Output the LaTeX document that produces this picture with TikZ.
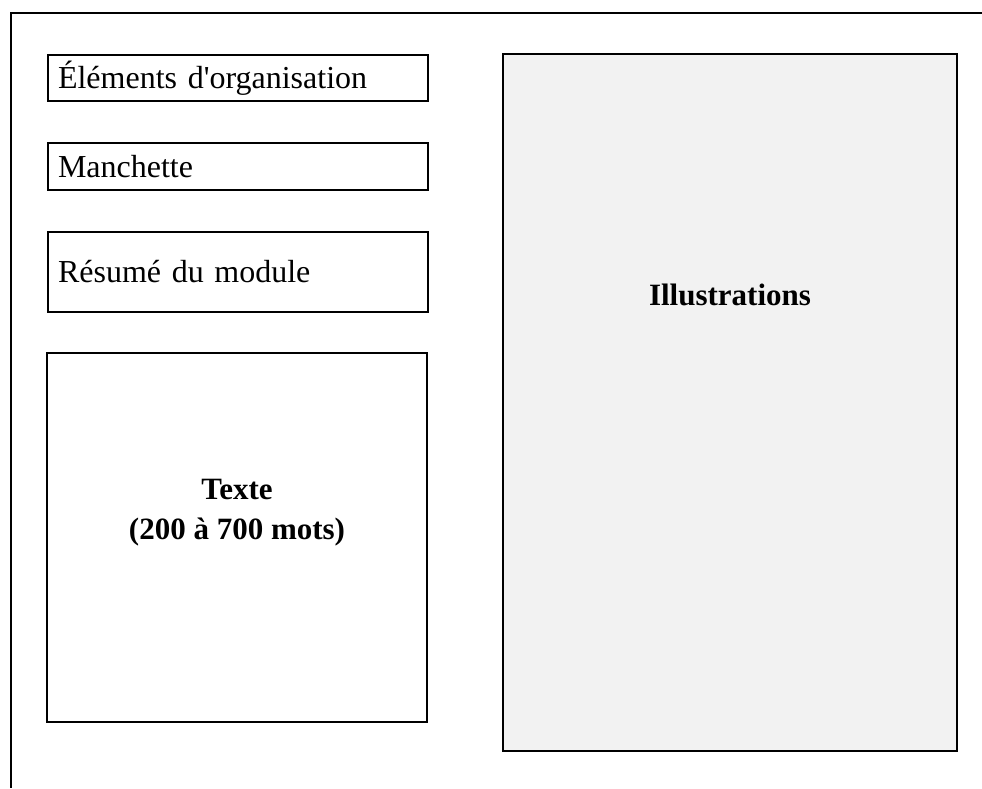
\documentclass[tikz,border=0pt]{standalone}
\usepackage{fontspec}
\setmainfont{Liberation Serif}
\definecolor{illgray}{HTML}{F2F2F2}
\tikzset{
  lbox/.style={draw=black, line width=2pt, anchor=north west, align=left,
    text width=360pt, inner xsep=10pt, inner ysep=0pt, font=\fontsize{32}{36}\selectfont},
  frameline/.style={draw=black, line width=2pt},
  bigtext/.style={align=center, font=\fontsize{31}{40}\selectfont\bfseries}
}
\begin{document}
\begin{tikzpicture}[x=1pt,y=-1pt]
\useasboundingbox (0,0) rectangle (982,788);
% outer frame (top and left edges only)
\coordinate (ftr) at (982,12.5);
\coordinate (ftl) at (10.5,12.5);
\coordinate (fbl) at (10.5,788);
\draw[frameline] (ftr) -- (ftl) -- (fbl);
% left boxes
\node[lbox, minimum height=46pt] (org) at (47,54) {Éléments d\textquotesingle organisation};
\node[lbox, minimum height=47pt] (man) at (47,142) {Manchette};
\node[lbox, minimum height=80pt] (res) at (47,231) {Résumé du module};
\draw[frameline] (47,353) rectangle (427,722);
\node[bigtext] (txt) at (237,513) {Texte\\(200 à 700 mots)};
% illustrations
\draw[frameline, fill=illgray] (503,54) rectangle (957,751);
\node[bigtext] (ill) at (730,295) {Illustrations};
\end{tikzpicture}
\end{document}
